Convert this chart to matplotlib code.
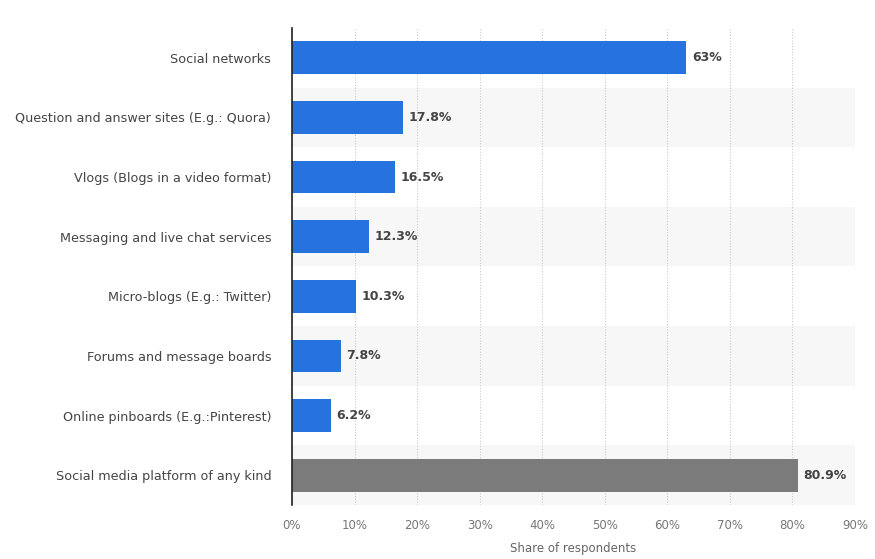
import matplotlib.pyplot as plt
import numpy as np

# Datos del gráfico
categorias = [
    "Social networks",
    "Question and answer sites (E.g.: Quora)",
    "Vlogs (Blogs in a video format)",
    "Messaging and live chat services",
    "Micro-blogs (E.g.: Twitter)",
    "Forums and message boards",
    "Online pinboards (E.g.:Pinterest)",
    "Social media platform of any kind",
]
valores = [63, 17.8, 16.5, 12.3, 10.3, 7.8, 6.2, 80.9]
etiquetas = ["63%", "17.8%", "16.5%", "12.3%", "10.3%", "7.8%", "6.2%", "80.9%"]
ticks_x = [0, 10, 20, 30, 40, 50, 60, 70, 80, 90]

colores = ["#2672de"] * 7 + ["#7b7b7b"]

fig = plt.figure(figsize=(8.75, 5.59), dpi=100)
ax = fig.add_axes([0.3337, 0.0966, 0.6435, 0.8534])

y = np.arange(len(categorias))

# bandas alternas de fondo
for i in y:
    if i % 2 == 1:
        ax.axhspan(i - 0.5, i + 0.5, color="#f7f7f7", zorder=0, lw=0)

ax.barh(y, valores, height=0.55, color=colores, zorder=3)

for yi, v, lab in zip(y, valores, etiquetas):
    ax.text(v + 0.9, yi, lab, va="center", ha="left", fontsize=9,
            color="#444444", fontweight="semibold")

ax.set_ylim(len(categorias) - 0.5, -0.5)
ax.set_xlim(0, 90)
ax.set_yticks(y)
ax.set_yticklabels(categorias, fontsize=9.2, color="#444444")
ax.set_xticks(ticks_x)
ax.set_xticklabels([f"{t}%" for t in ticks_x], fontsize=8.5, color="#777777")
ax.tick_params(axis="y", length=0, pad=15)
ax.tick_params(axis="x", length=0, pad=10)

ax.grid(axis="x", color="#cccccc", linestyle=(0, (1, 1.5)), linewidth=0.8, zorder=1)
ax.set_axisbelow(True)

for s in ["top", "right", "bottom"]:
    ax.spines[s].set_visible(False)
ax.spines["left"].set_color("#222222")
ax.spines["left"].set_linewidth(1.2)
ax.spines["left"].set_zorder(4)

ax.set_xlabel("Share of respondents", fontsize=8.5, color="#666666", labelpad=7)

fig.savefig("out.png", dpi=100)
